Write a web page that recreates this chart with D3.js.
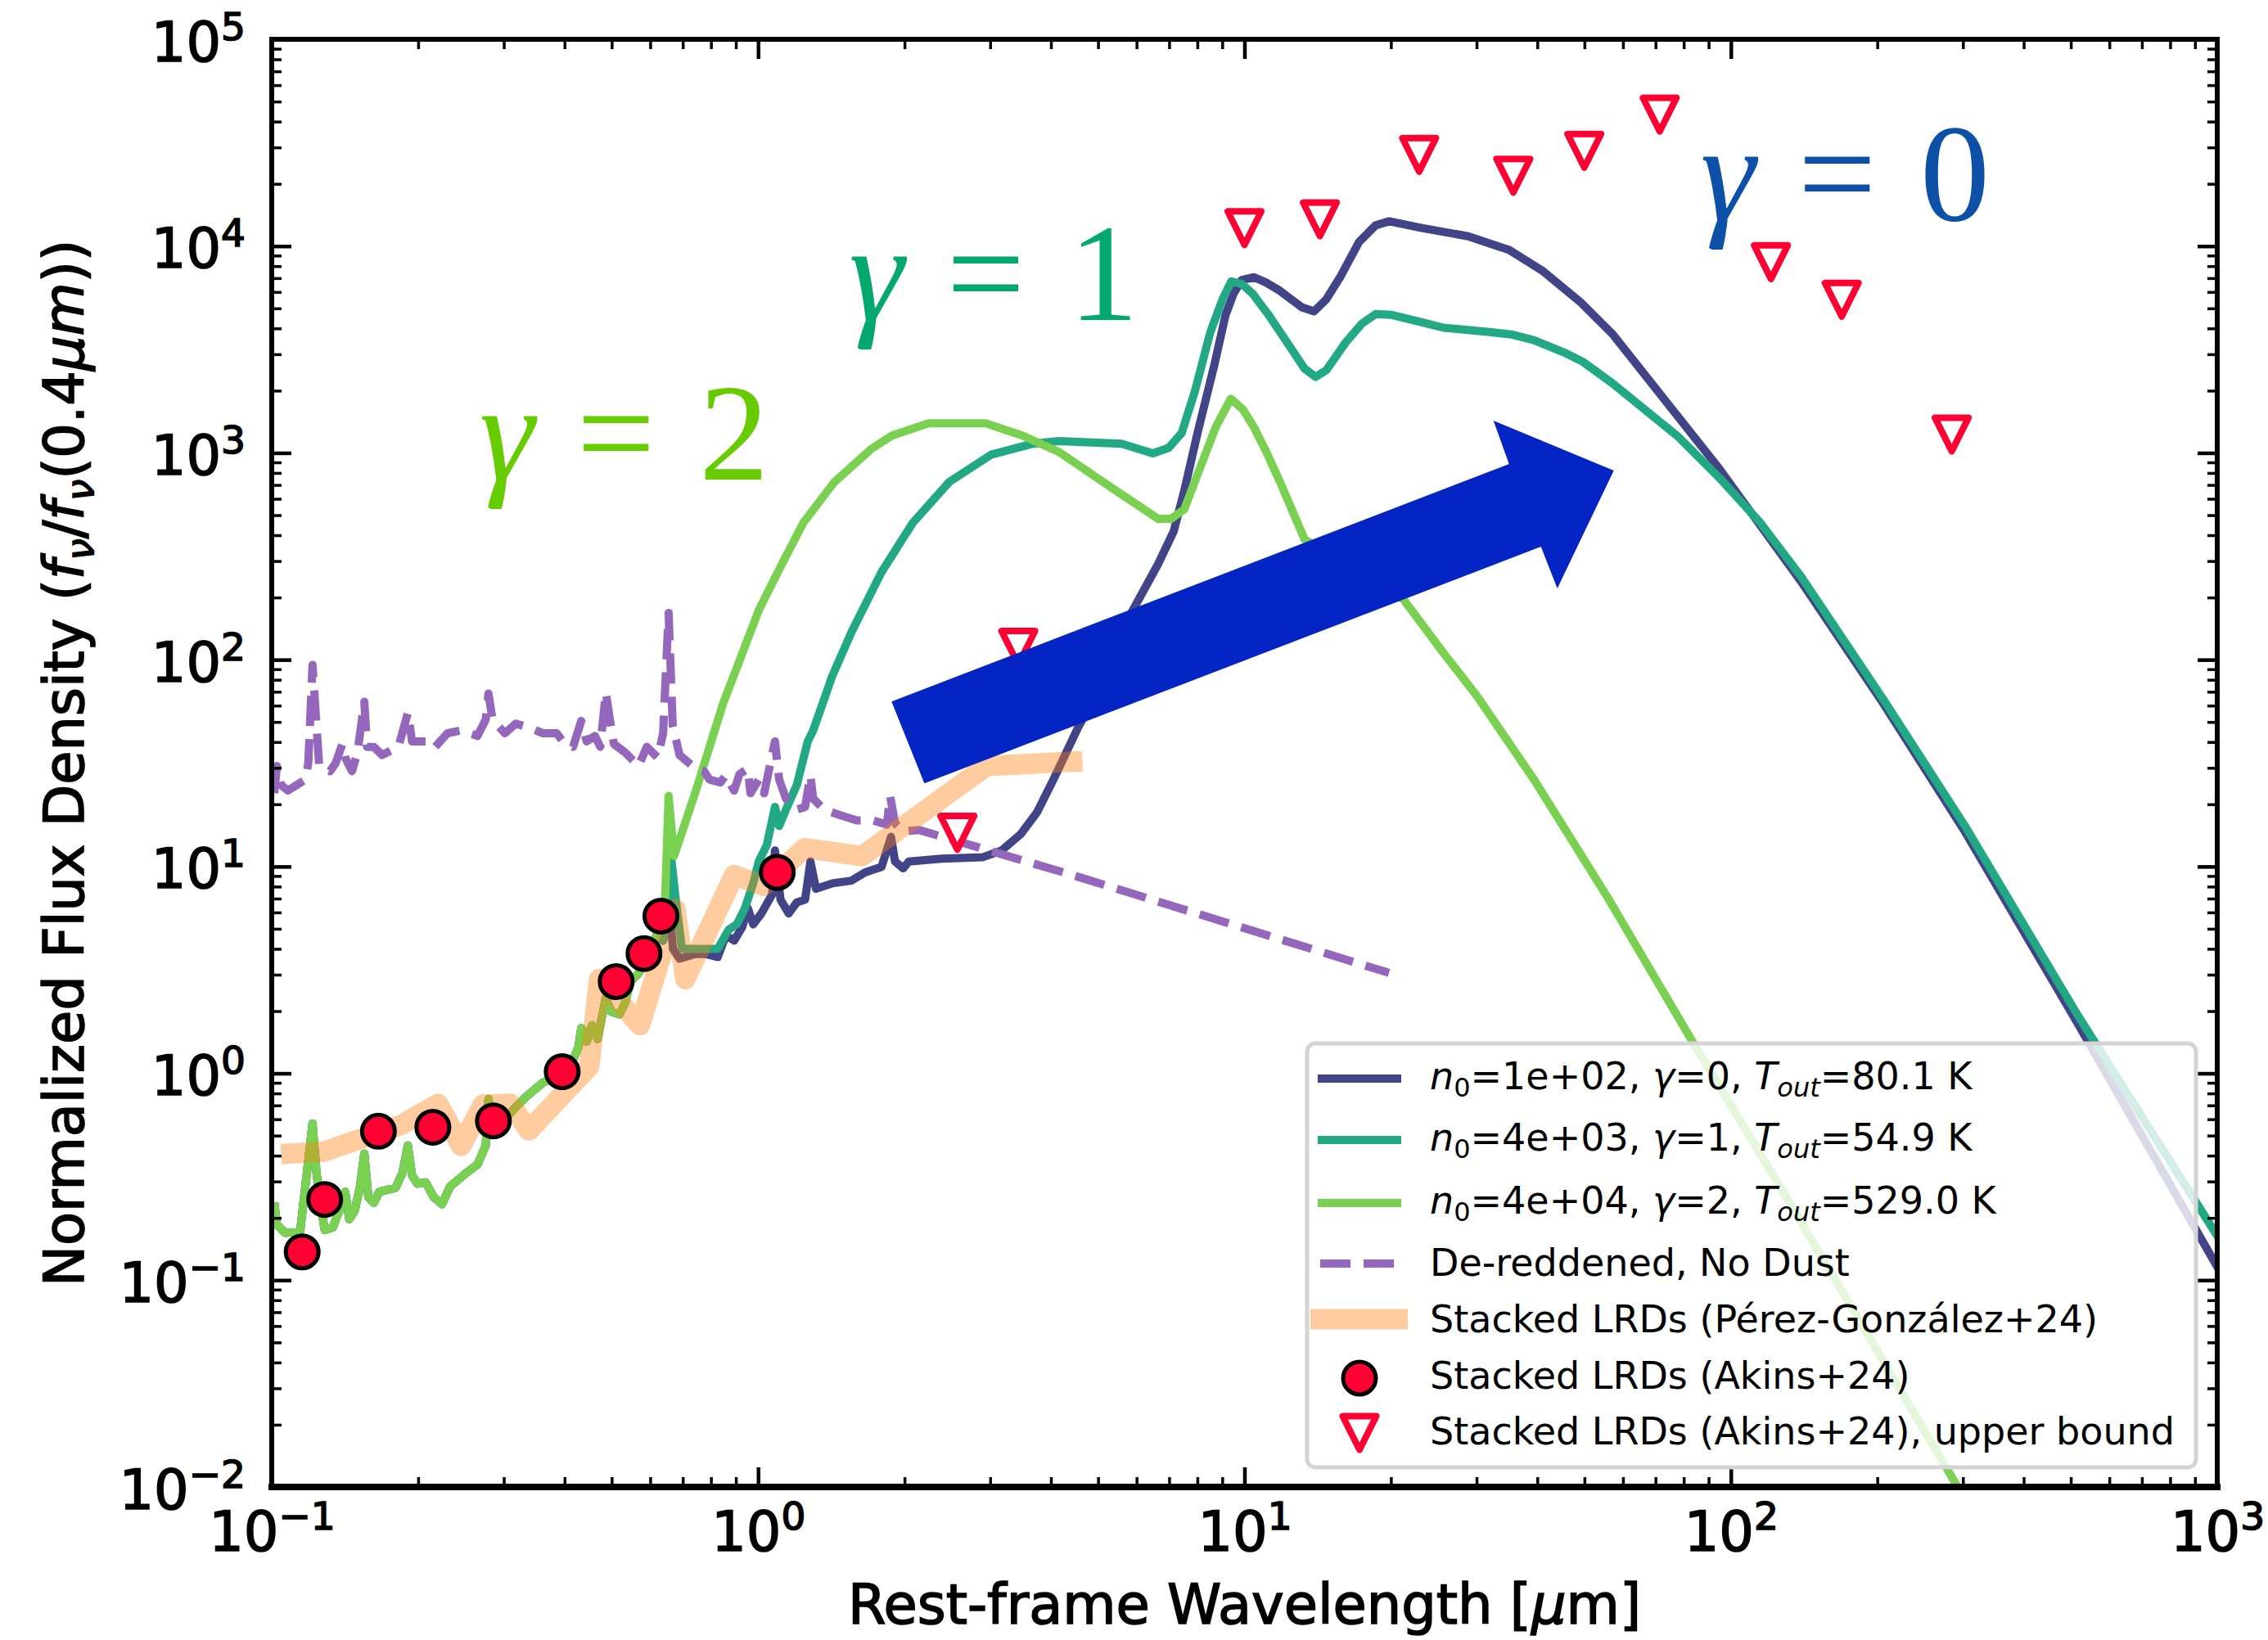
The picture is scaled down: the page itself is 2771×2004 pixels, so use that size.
<!DOCTYPE html>
<html>
<head>
<meta charset="utf-8">
<script src="https://cdn.jsdelivr.net/npm/d3@7"></script>
<style>
  html, body { margin: 0; padding: 0; background: #ffffff; }
  svg { display: block; }
</style>
</head>
<body>
<svg id="chart" width="2771" height="2004"></svg>
<script>
// ---------------------------------------------------------------------------
// Data (rest-frame wavelength in micron, flux density normalised at 0.4 micron)
// ---------------------------------------------------------------------------

// Rest-UV / optical spectrum shared by the three dusty models below ~0.62 um
const uvWave = [0.1012,0.1025,0.1065,0.1144,0.1213,0.1236,0.1260,0.1285,0.1336,0.1389,
  0.1416,0.1443,0.1481,0.1519,0.1550,0.1580,0.1622,0.1663,0.1798,0.1857,
  0.1905,0.1943,0.1994,0.2072,0.2154,0.2239,0.2328,0.2516,0.2649,0.2754,
  0.2790,0.2863,0.3133,0.3343,0.3611,0.3853,0.4111,0.4273,0.4328,0.4442,
  0.4557,0.4677,0.4862,0.4990,0.5187,0.5322,0.5462,0.5677,0.5902,0.6216];
const uvFlux = [0.2367,0.1856,0.1694,0.1720,0.5716,0.3308,0.2367,0.1748,0.1800,0.2297,
  0.2673,0.1972,0.2162,0.2841,0.4091,0.2517,0.2367,0.2673,0.2798,0.3308,
  0.4482,0.3207,0.2928,0.2974,0.2517,0.2331,0.2841,0.3308,0.3624,0.4482,
  0.7515,0.5060,0.6653,0.7746,0.9020,0.9581,1.083,1.339,1.656,1.423,
  1.708,1.466,2.314,1.987,1.928,2.177,2.777,3.043,3.543,4.800];

// n0=1e+02, gamma=0 model beyond 0.62 um
const gamma0Wave = [0.6378,0.6546,0.6683,0.6894,0.7450,0.7844,0.8260,0.8587,0.8927,0.9279,
  0.9519,0.9770,1.016,1.069,1.083,1.112,1.156,1.201,1.249,1.281,
  1.315,1.421,1.556,1.660,1.794,1.876,1.912,1.988,2.041,2.383,
  2.892,3.167,3.467,3.746,4.048,4.547,5.318,5.874,6.643,7.155,
  7.518,8.008,8.673,9.137,9.497,9.874,10.46,11.09,11.83,13.12,
  13.90,14.74,15.72,17.21,18.60,19.84,23.17,28.84,35.02,40.89,
  48.99,57.23,94.7,139.6,205.6,303.0,515.3,1004];
const gamma0Flux = [4.381,6.914,4.0,3.585,3.786,3.763,3.651,4.658,4.381,5.102,
  6.31,5.258,5.935,7.347,11.95,6.914,5.935,6.708,6.914,10.58,
  7.80,8.294,8.548,9.366,9.954,13.91,10.58,9.802,10.58,10.91,
  11.08,11.95,14.34,18.29,26.34,46.93,92.8,171.0,290.1,418.7,
  655.1,1250,2673,4619,5893,6861,7071,6653,6075,5060,
  4835,5543,7071,10495,12600,13183,12222,11155,9581,7628,
  5379,3735,837.2,237.8,61.66,14.73,1.760,0.1141];

// n0=4e+03, gamma=1 model beyond 0.62 um
const gamma1Wave = [0.6378,0.6630,0.6761,0.6973,0.745,0.826,0.8696,0.9042,0.9399,0.9770,
  1.003,1.042,1.083,1.105,1.141,1.201,1.265,1.298,1.421,1.556,
  1.794,2.079,2.472,3.013,3.671,4.153,5.591,6.483,6.983,7.429,
  7.899,8.511,9.016,9.395,9.874,10.39,11.23,12.46,13.29,14.00,
  14.74,16.13,17.43,18.60,20.09,23.17,25.68,31.59,35.48,39.34,
  45.36,49.64,57.23,78.03,94.71,115.0,139.6,205.6,303.0,515.3,1004];
const gamma1Flux = [4.381,10.91,7.123,4.0,4.0,4.0,4.946,5.258,6.31,8.294,
  10.58,12.70,19.43,15.70,18.85,24.78,40.29,45.52,83.56,136.0,
  265.4,458.6,723.6,980.2,1108,1141,1108,995.4,1058,1250,
  1972,3848,5543,6757,6556,5893,4619,3208,2554,2331,
  2517,3410,4217,4691,4648,4281,4029,3848,3735,3513,
  3064,2757,2161,1194,757.3,458.6,251.2,64.55,15.70,1.928,0.1614];

// n0=4e+04, gamma=2 model beyond 0.62 um
const gamma2Wave = [0.6428,0.6546,0.6716,0.6982,0.7450,0.7948,0.8476,0.9042,1.003,1.098,
  1.238,1.435,1.706,1.884,2.240,2.472,2.938,3.495,4.153,5.320,
  6.646,7.068,7.520,8.097,8.723,9.374,9.934,10.46,11.09,11.83,
  13.29,21.24,25.88,30.03,39.40,55.69,83.34,131.2,292.6,341.8];
const gamma2Flux = [6.197,21.94,11.24,14.77,23.31,37.93,61.66,91.54,173.3,265.4,
  458.6,723.6,1042,1213,1391,1391,1391,1213,1011,680.6,
  479.9,479.9,534.0,842.4,1329,1829,1619,1329,1011,723.6,
  382.1,195.3,104.9,67.0,26.27,7.143,1.427,0.2432,0.01,0.00538];

// De-reddened intrinsic spectrum (no dust)
const noDustWave = [0.1012,0.1025,0.1045,0.1079,0.1173,0.1189,0.1213,0.1236,0.1252,0.1318,
  0.1353,0.1397,0.1416,0.1462,0.1501,0.1550,0.1570,0.1622,0.1686,0.1752,
  0.1822,0.1905,0.1943,0.2072,0.2154,0.2299,0.2451,0.2649,0.2754,0.2790,
  0.2844,0.3015,0.3175,0.3387,0.3611,0.3853,0.4006,0.4164,0.4328,0.4442,
  0.4618,0.4738,0.4862,0.4957,0.5054,0.5322,0.5677,0.5902,0.6216,0.6378,
  0.6546,0.6674,0.6894,0.7450,0.7743,0.7948,0.8365,0.8587,0.8927,0.9158,
  0.9519,0.9645,1.003,1.029,1.083,1.105,1.141,1.201,1.249,1.281,
  1.298,1.367,1.477,1.596,1.725,1.840,1.868,1.912,1.988,2.148,
  4.431,19.82];
const noDustFlux = [22.6,30.6,24.8,23.3,26.3,31.6,94.4,48.3,30.6,28.9,
  31.6,39.1,33.6,28.9,35.7,62.6,37.9,37.9,34.6,36.2,
  37.9,55.4,40.3,40.3,37.3,44.1,45.5,42.8,51.4,68.6,
  51.4,44.1,49.1,46.9,44.1,44.1,39.1,37.9,50.6,40.3,
  42.8,37.9,69.6,51.4,39.1,35.7,30.6,37.9,33.6,44.1,
  168.2,48.3,34.6,29.7,28.9,26.3,25.5,27.6,23.3,28.0,
  29.7,22.6,26.3,22.6,40.3,26.3,21.3,18.85,19.4,27.6,
  21.3,18.85,17.7,16.7,16.7,15.95,21.9,16.2,14.8,15.0,
  9.09,3.06];

// Stacked LRDs, Perez-Gonzalez+24
const pgWave = [0.1045,0.1285,0.1845,0.2197,0.2451,0.2718,0.3093,0.3378,0.4499,0.4710,
  0.5716,0.6760,0.7085,0.8927,1.027,1.247,1.636,2.949,4.642];
const pgFlux = [0.4065,0.4195,0.563,0.712,0.4454,0.707,0.712,0.5297,1.083,2.861,
  1.708,6.21,2.853,9.09,8.07,12.27,11.24,30.6,32.3];

// Stacked LRDs, Akins+24 (detections)
const akinsWave = [0.1155,0.1285,0.1657,0.2144,0.2856,0.3955,0.5107,0.5826,0.6312,1.095];
const akinsFlux = [0.137,0.2455,0.525,0.549,0.589,1.018,2.777,3.796,5.76,9.37];

// Stacked LRDs, Akins+24 (upper bounds)
const ulWave = [2.568,3.427,10.0,14.29,22.86,35.7,49.96,71.4,120.9,169,284.5];
const ulFlux = [14.56,114.3,12220,13475,27600,21900,28880,43250,8360,5500,1228];

// Trend arrow (outline vertices in data space)
const arrowWave = [1.881,34.99,32.50,57.45,43.97,40.69,2.197];
const arrowFlux = [62.8,884.4,1433,821.9,221.1,351.9,25.23];

// gamma annotations
const gammaValues = ['2','1','0'];
const gammaWave = [0.2673,1.538,86.6];
const gammaFlux = [745,4373,13390];
const gammaColors = ['#66cc00','#02a86e','#0c50a8'];

// Axis ticks
const xTickExponents = [-1,0,1,2,3];
const yTickExponents = [-2,-1,0,1,2,3,4,5];

// Series colours
const colGamma0 = '#414487';
const colGamma1 = '#22a884';
const colGamma2 = '#7ad151';
const colNoDust = '#9467bd';
const colPG = '#ff7f0e';
const colAkins = '#ff0033';

// ---------------------------------------------------------------------------
// Layout and scales
// ---------------------------------------------------------------------------
const W = 2771, H = 2004;
const plot = { left: 332, right: 2709, top: 48, bottom: 1817 };

const x = d3.scaleLog().domain([0.1, 1000]).range([plot.left, plot.right]);
const y = d3.scaleLog().domain([0.01, 1e5]).range([plot.bottom, plot.top]);

const svg = d3.select('#chart');
svg.append('rect').attr('width', W).attr('height', H).attr('fill', '#ffffff');

svg.append('defs').append('clipPath').attr('id', 'plotClip')
  .append('rect')
  .attr('x', plot.left).attr('y', plot.top)
  .attr('width', plot.right - plot.left).attr('height', plot.bottom - plot.top);

const line = d3.line().x(d => x(d[0])).y(d => y(d[1]));
const series = (w, f) => d3.zip(w, f);

const data = svg.append('g').attr('clip-path', 'url(#plotClip)');
const modelWidth = 10;

// Model SEDs
const models = [
  { w: uvWave.concat(gamma0Wave), f: uvFlux.concat(gamma0Flux), c: colGamma0 },
  { w: uvWave.concat(gamma1Wave), f: uvFlux.concat(gamma1Flux), c: colGamma1 },
  { w: uvWave.concat(gamma2Wave), f: uvFlux.concat(gamma2Flux), c: colGamma2 }
];
models.forEach(m => {
  data.append('path')
    .attr('d', line(series(m.w, m.f)))
    .attr('fill', 'none')
    .attr('stroke', m.c)
    .attr('stroke-width', modelWidth)
    .attr('stroke-linejoin', 'round')
    .attr('stroke-linecap', 'butt');
});

// Intrinsic (no dust) spectrum
data.append('path')
  .attr('d', line(series(noDustWave, noDustFlux)))
  .attr('fill', 'none')
  .attr('stroke', colNoDust)
  .attr('stroke-width', 10)
  .attr('stroke-dasharray', '37,16')
  .attr('stroke-linejoin', 'round');

// Perez-Gonzalez+24 stack
data.append('path')
  .attr('d', line(series(pgWave, pgFlux)))
  .attr('fill', 'none')
  .attr('stroke', colPG)
  .attr('stroke-opacity', 0.4)
  .attr('stroke-width', 25)
  .attr('stroke-linejoin', 'round')
  .attr('stroke-linecap', 'butt');

// Akins+24 detections
svg.append('g').selectAll('circle')
  .data(series(akinsWave, akinsFlux))
  .join('circle')
  .attr('cx', d => x(d[0]))
  .attr('cy', d => y(d[1]))
  .attr('r', 20)
  .attr('fill', colAkins)
  .attr('stroke', '#000000')
  .attr('stroke-width', 5);

// Akins+24 upper bounds
const triPath = 'M-20.5,-20.5L20.5,-20.5L0,20.5Z';
svg.append('g').selectAll('path')
  .data(series(ulWave, ulFlux))
  .join('path')
  .attr('d', triPath)
  .attr('transform', d => `translate(${x(d[0])},${y(d[1])})`)
  .attr('fill', '#ffffff')
  .attr('stroke', colAkins)
  .attr('stroke-width', 8)
  .attr('stroke-linejoin', 'round');

// Trend arrow
svg.append('path')
  .attr('d', 'M' + series(arrowWave, arrowFlux).map(d => `${x(d[0])},${y(d[1])}`).join('L') + 'Z')
  .attr('fill', '#0424c4');

// gamma labels
gammaValues.forEach((g, i) => {
  const gx = x(gammaWave[i]), gy = y(gammaFlux[i]);
  const t = svg.append('g')
    .attr('fill', gammaColors[i])
    .attr('font-family', "'Liberation Serif', 'DejaVu Serif', serif")
    .attr('font-size', 170);
  t.append('text').attr('x', gx).attr('y', gy).attr('font-style', 'italic').text('\u03b3');
  t.append('text').attr('x', gx + 167).attr('y', gy).attr('text-anchor', 'middle').text('=');
  t.append('text').attr('x', gx + 311).attr('y', gy).attr('text-anchor', 'middle').text(g);
});

// ---------------------------------------------------------------------------
// Axes
// ---------------------------------------------------------------------------
const labelFont = "'DejaVu Sans', sans-serif";
const expText = e => (e < 0 ? '\u2212' + (-e) : String(e));

const xMajor = xTickExponents.map(e => Math.pow(10, e));
const yMajor = yTickExponents.map(e => Math.pow(10, e));
const minorOf = exps => {
  const out = [];
  for (let i = 0; i < exps.length - 1; i++)
    for (let k = 2; k <= 9; k++) out.push(k * Math.pow(10, exps[i]));
  return out;
};
const xMinor = minorOf(xTickExponents);
const yMinor = minorOf(yTickExponents);

function drawAxis(axisFn, scale, values, size, width, transform) {
  const g = svg.append('g').attr('transform', transform)
    .call(axisFn(scale).tickValues(values).tickSize(-size).tickSizeOuter(0).tickFormat(''));
  g.select('.domain').remove();
  g.selectAll('.tick line').attr('stroke', '#000').attr('stroke-width', width);
  return g;
}

const gxB = drawAxis(d3.axisBottom, x, xMajor, 24, 4.5, `translate(0,${plot.bottom})`);
drawAxis(d3.axisBottom, x, xMinor, 12, 3.5, `translate(0,${plot.bottom})`);
drawAxis(d3.axisTop, x, xMajor, 24, 4.5, `translate(0,${plot.top})`);
drawAxis(d3.axisTop, x, xMinor, 12, 3.5, `translate(0,${plot.top})`);
const gyL = drawAxis(d3.axisLeft, y, yMajor, 24, 4.5, `translate(${plot.left},0)`);
drawAxis(d3.axisLeft, y, yMinor, 12, 3.5, `translate(${plot.left},0)`);
drawAxis(d3.axisRight, y, yMajor, 24, 4.5, `translate(${plot.right},0)`);
drawAxis(d3.axisRight, y, yMinor, 12, 3.5, `translate(${plot.right},0)`);

// tick labels: 10^n
function powerLabel(sel, d) {
  const e = Math.round(Math.log10(d));
  sel.text(null)
    .attr('font-family', labelFont)
    .attr('font-size', 67).attr('fill', '#000')
    .attr('stroke', '#000').attr('stroke-width', 1.6);
  sel.append('tspan').text('10');
  sel.append('tspan').attr('dy', -26).attr('font-size', 47).text(expText(e));
}
gxB.selectAll('.tick text').each(function (d) {
  const t = d3.select(this);
  t.attr('y', 78).attr('dy', null).attr('text-anchor', 'middle');
  powerLabel(t, d);
});
gyL.selectAll('.tick text').each(function (d) {
  const t = d3.select(this);
  t.attr('x', -32).attr('y', 26).attr('dy', null).attr('text-anchor', 'end');
  powerLabel(t, d);
});

// spines
const spines = svg.append('g').attr('stroke', '#000').attr('stroke-linecap', 'square');
spines.append('line').attr('x1', plot.left).attr('x2', plot.right).attr('y1', plot.top).attr('y2', plot.top).attr('stroke-width', 6);
spines.append('line').attr('x1', plot.left).attr('x2', plot.left).attr('y1', plot.top).attr('y2', plot.bottom).attr('stroke-width', 6);
spines.append('line').attr('x1', plot.right).attr('x2', plot.right).attr('y1', plot.top).attr('y2', plot.bottom).attr('stroke-width', 6);
spines.append('line').attr('x1', plot.left).attr('x2', plot.right).attr('y1', plot.bottom).attr('y2', plot.bottom).attr('stroke-width', 8);

// axis titles
const xl = svg.append('text')
  .attr('x', (plot.left + plot.right) / 2).attr('y', 1984)
  .attr('text-anchor', 'middle')
  .attr('font-family', labelFont)
  .attr('font-size', 67).attr('fill', '#000')
  .attr('stroke', '#000').attr('stroke-width', 1.6);
xl.append('tspan').text('Rest-frame Wavelength [');
xl.append('tspan').attr('font-style', 'italic').text('\u03bc');
xl.append('tspan').text('m]');

const yl = svg.append('text')
  .attr('transform', `translate(102,${(plot.top + plot.bottom) / 2}) rotate(-90)`)
  .attr('text-anchor', 'middle')
  .attr('font-family', labelFont)
  .attr('font-size', 67).attr('fill', '#000')
  .attr('stroke', '#000').attr('stroke-width', 1.6);
yl.append('tspan').text('Normalized Flux Density (');
yl.append('tspan').attr('font-style', 'italic').text('f');
yl.append('tspan').attr('font-style', 'italic').attr('font-size', 47).attr('dy', 12).text('\u03bd');
yl.append('tspan').attr('dy', -12).text('/');
yl.append('tspan').attr('font-style', 'italic').text('f');
yl.append('tspan').attr('font-style', 'italic').attr('font-size', 47).attr('dy', 12).text('\u03bd');
yl.append('tspan').attr('dy', -12).text('(0.4');
yl.append('tspan').attr('font-style', 'italic').text('\u03bcm');
yl.append('tspan').text('))');

// ---------------------------------------------------------------------------
// Legend
// ---------------------------------------------------------------------------
const legend = svg.append('g')
  .attr('font-family', "'DejaVu Sans', sans-serif")
  .attr('font-size', 46).attr('fill', '#000');
legend.append('rect')
  .attr('x', 1597).attr('y', 1275).attr('width', 1086).attr('height', 518)
  .attr('rx', 10).attr('ry', 10)
  .attr('fill', '#ffffff').attr('fill-opacity', 0.8)
  .attr('stroke', '#d4d4d4').attr('stroke-width', 5);

const legendModels = [
  { c: colGamma0, dens: '1e+02', g: '0', T: '80.1' },
  { c: colGamma1, dens: '4e+03', g: '1', T: '54.9' },
  { c: colGamma2, dens: '4e+04', g: '2', T: '529.0' }
];
const rowBase = [1331, 1406, 1483, 1559, 1628, 1697, 1765];
const hx0 = 1610, hx1 = 1712, hxc = 1661, tx = 1747;

legendModels.forEach((m, i) => {
  const yb = rowBase[i];
  legend.append('line').attr('x1', hx0).attr('x2', hx1).attr('y1', yb - 13).attr('y2', yb - 13)
    .attr('stroke', m.c).attr('stroke-width', modelWidth);
  const t = legend.append('text').attr('x', tx).attr('y', yb);
  t.append('tspan').attr('font-style', 'italic').text('n');
  t.append('tspan').attr('font-size', 32).attr('dy', 9).text('0');
  t.append('tspan').attr('dy', -9).text(`=${m.dens}, `);
  t.append('tspan').attr('font-style', 'italic').text('\u03b3');
  t.append('tspan').text(`=${m.g}, `);
  t.append('tspan').attr('font-style', 'italic').text('T');
  t.append('tspan').attr('font-style', 'italic').attr('font-size', 32).attr('dy', 9).text('out');
  t.append('tspan').attr('dy', -9).text(`=${m.T} K`);
});

legend.append('line').attr('x1', 1613).attr('x2', hx1).attr('y1', rowBase[3] - 15).attr('y2', rowBase[3] - 15)
  .attr('stroke', colNoDust).attr('stroke-width', 10).attr('stroke-dasharray', '37,16');
legend.append('text').attr('x', tx).attr('y', rowBase[3]).text('De-reddened, No Dust');

legend.append('line').attr('x1', 1601).attr('x2', 1720).attr('y1', rowBase[4] - 16).attr('y2', rowBase[4] - 16)
  .attr('stroke', colPG).attr('stroke-opacity', 0.4).attr('stroke-width', 25);
legend.append('text').attr('x', tx).attr('y', rowBase[4]).text('Stacked LRDs (P\u00e9rez-Gonz\u00e1lez+24)');

legend.append('circle').attr('cx', hxc).attr('cy', rowBase[5] - 13).attr('r', 20)
  .attr('fill', colAkins).attr('stroke', '#000').attr('stroke-width', 5);
legend.append('text').attr('x', tx).attr('y', rowBase[5]).text('Stacked LRDs (Akins+24)');

legend.append('path').attr('d', triPath)
  .attr('transform', `translate(${hxc},${rowBase[6] - 14})`)
  .attr('fill', '#ffffff').attr('stroke', colAkins).attr('stroke-width', 8).attr('stroke-linejoin', 'round');
legend.append('text').attr('x', tx).attr('y', rowBase[6]).text('Stacked LRDs (Akins+24), upper bound');
</script>
</body>
</html>
